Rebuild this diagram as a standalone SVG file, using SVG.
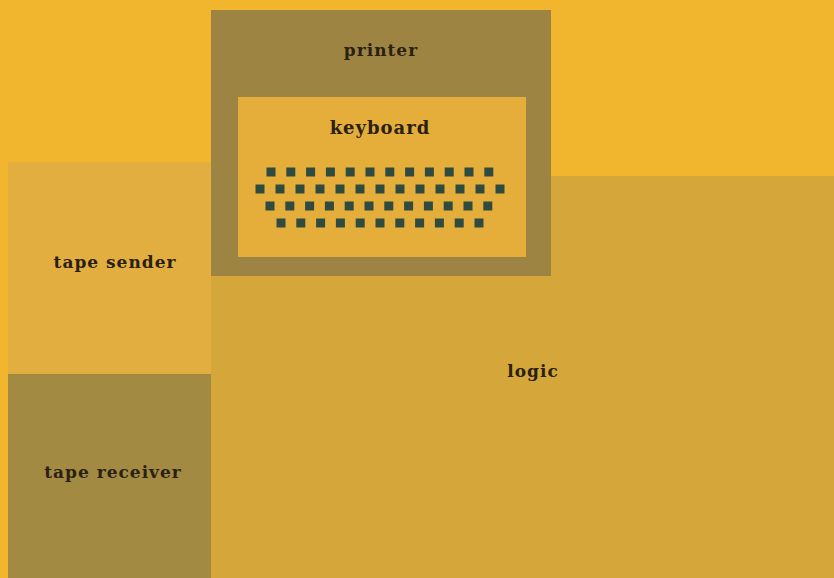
<svg xmlns="http://www.w3.org/2000/svg" width="834" height="578" viewBox="0 0 834 578">
<style>
.lbl{font-family:"DejaVu Serif","Liberation Serif",serif;font-weight:bold;text-anchor:middle;fill:#2a2112;letter-spacing:1px}
.key{fill:#2f4a3e}
</style>
<defs>
<g id="k"><rect class="key" x="-4.5" y="-4.5" width="9" height="9"/></g>
</defs>
<rect x="0" y="0" width="834" height="578" fill="#f2b52e"/>
<g id="logic">
<rect x="211" y="176" width="623" height="402" fill="#d5a73b"/>
<text class="lbl" x="533" y="377" font-size="17">logic</text>
</g>
<g id="tape-sender">
<rect x="8" y="162" width="203" height="212" fill="#e3ae40"/>
<text class="lbl" x="115" y="268" font-size="17">tape sender</text>
</g>
<g id="tape-receiver">
<rect x="8" y="374" width="203" height="204" fill="#a38a42"/>
<text class="lbl" x="113" y="478" font-size="17" fill="#3a3018">tape receiver</text>
</g>
<g id="printer">
<rect x="211" y="10" width="340" height="266" fill="#9d8443"/>
<text class="lbl" x="381" y="56" font-size="17" fill="#3a3018">printer</text>
</g>
<g id="keyboard">
<rect x="238" y="97" width="288" height="160" fill="#e5ae3b"/>
<text class="lbl" x="380" y="134" font-size="18">keyboard</text>
<g id="keys">
<g transform="translate(271,172)"><use href="#k" x="0"/><use href="#k" x="19.8"/><use href="#k" x="39.6"/><use href="#k" x="59.4"/><use href="#k" x="79.2"/><use href="#k" x="99"/><use href="#k" x="118.8"/><use href="#k" x="138.6"/><use href="#k" x="158.4"/><use href="#k" x="178.2"/><use href="#k" x="198"/><use href="#k" x="217.8"/></g>
<g transform="translate(260,189)"><use href="#k" x="0"/><use href="#k" x="20"/><use href="#k" x="40"/><use href="#k" x="60"/><use href="#k" x="80"/><use href="#k" x="100"/><use href="#k" x="120"/><use href="#k" x="140"/><use href="#k" x="160"/><use href="#k" x="180"/><use href="#k" x="200"/><use href="#k" x="220"/><use href="#k" x="240"/></g>
<g transform="translate(270,206)"><use href="#k" x="0"/><use href="#k" x="19.8"/><use href="#k" x="39.6"/><use href="#k" x="59.4"/><use href="#k" x="79.2"/><use href="#k" x="99"/><use href="#k" x="118.8"/><use href="#k" x="138.6"/><use href="#k" x="158.4"/><use href="#k" x="178.2"/><use href="#k" x="198"/><use href="#k" x="217.8"/></g>
<g transform="translate(281,223)"><use href="#k" x="0"/><use href="#k" x="19.8"/><use href="#k" x="39.6"/><use href="#k" x="59.4"/><use href="#k" x="79.2"/><use href="#k" x="99"/><use href="#k" x="118.8"/><use href="#k" x="138.6"/><use href="#k" x="158.4"/><use href="#k" x="178.2"/><use href="#k" x="198"/></g>
</g>
</g>
<g id="connectors"/>
</svg>
